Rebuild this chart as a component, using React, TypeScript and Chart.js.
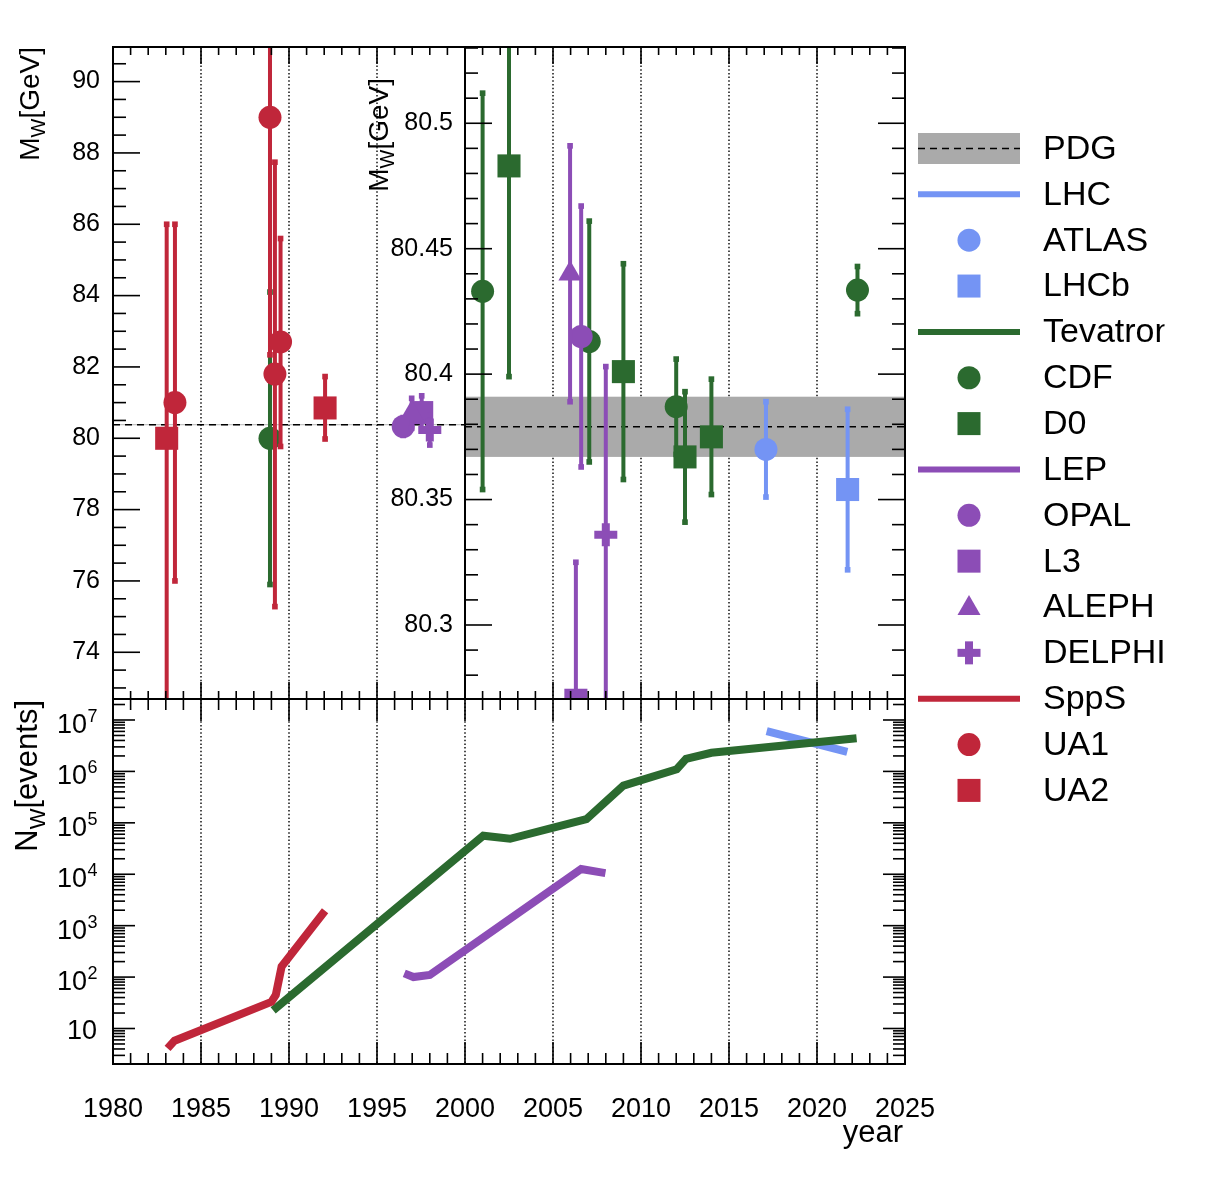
import React, { useEffect, useRef } from "react";
import { Chart, registerables } from "chart.js";

Chart.register(...registerables);

// ---------------- data ----------------
const PDG_MW = 80.379;
const PDG_ERR = 0.012;

// W mass measurements: year, M_W [GeV], error down / up
const UA1_YEAR = [1983.52, 1988.92, 1989.2, 1989.52];
const UA1_MW = [81.0, 89.0, 81.8, 82.7];
const UA1_ERR_DN = [5.0, 6.66, 6.52, 2.93];
const UA1_ERR_UP = [5.0, 6.66, 5.94, 2.9];

const UA2_YEAR = [1983.05, 1992.05];
const UA2_MW = [80.0, 80.85];
const UA2_ERR_DN = [10.0, 0.87];
const UA2_ERR_UP = [6.0, 0.88];

const CDF_YEAR = [1988.92, 2001.0, 2007.06, 2012.0, 2022.3];
const CDF_MW = [80.0, 80.433, 80.413, 80.387, 80.4335];
const CDF_ERR = [4.1, 0.079, 0.048, 0.019, 0.0094];

const D0_YEAR = [2002.5, 2009.0, 2012.5, 2014.0];
const D0_MW = [80.483, 80.401, 80.367, 80.375];
const D0_ERR = [0.084, 0.043, 0.026, 0.023];

const OPAL_YEAR = [1996.49, 2006.6];
const OPAL_MW = [80.33, 80.415];
const OPAL_ERR = [0.25, 0.052];

const L3_YEAR = [1997.54, 2006.3];
const L3_MW = [80.72, 80.27];
const L3_ERR = [0.47, 0.055];

const ALEPH_YEAR = [1996.97, 2005.97];
const ALEPH_MW = [80.7, 80.44];
const ALEPH_ERR = [0.42, 0.051];

const DELPHI_YEAR = [1998.0, 2008.0];
const DELPHI_MW = [80.23, 80.336];
const DELPHI_ERR = [0.42, 0.067];

const ATLAS_YEAR = [2017.1];
const ATLAS_MW = [80.37];
const ATLAS_ERR = [0.019];

const LHCB_YEAR = [2021.74];
const LHCB_MW = [80.354];
const LHCB_ERR = [0.032];

// Number of W events
const SPPS_N_YEAR = [1983.1, 1983.5, 1989.0, 1989.25, 1989.58, 1989.87, 1992.05];
const SPPS_N = [4.1, 5.8, 33, 45, 160, 214, 1950];

const TEV_N_YEAR = [1989.1, 2001.04, 2002.56, 2005.02, 2006.9, 2009.0, 2012.03, 2012.56, 2014.0, 2022.25];
const TEV_N = [22.5, 5.6e4, 4.9e4, 8.1e4, 1.18e5, 5.3e5, 1.1e6, 1.75e6, 2.3e6, 4.4e6];

const LEP_N_YEAR = [1996.55, 1997.07, 1998.0, 2006.6, 2007.98];
const LEP_N = [118, 100, 110, 1.26e4, 1.05e4];

const LHC_N_YEAR = [2017.14, 2021.72];
const LHC_N = [6.1e6, 2.4e6];

// tick labels
const X_LABELS = [1980, 1985, 1990, 1995, 2000, 2005, 2010, 2015, 2020, 2025];
const LEFT_Y_LABELS = [74, 76, 78, 80, 82, 84, 86, 88, 90];
const RIGHT_Y_LABELS = [80.3, 80.35, 80.4, 80.45, 80.5];
const LOG_EXPONENTS = [1, 2, 3, 4, 5, 6, 7];
const LEGEND_LABELS = ["PDG", "LHC", "ATLAS", "LHCb", "Tevatron", "CDF", "D0", "LEP", "OPAL", "L3", "ALEPH", "DELPHI", "SppS", "UA1", "UA2"];

// ---------------- style / layout ----------------
const W = 1222;
const H = 1182;
const FONT = '"Liberation Sans", Arial, Helvetica, sans-serif';
const RED = "#c0263a";
const GREEN = "#2b6a2f";
const PURPLE = "#8c4db6";
const BLUE = "#7494f4";
const GREY = "#aaaaaa";

const AREA_A = { l: 113, t: 47, r: 465, b: 699 };
const AREA_B = { l: 465, t: 47, r: 905, b: 699 };
const AREA_C = { l: 113, t: 699, r: 905, b: 1064 };

type Exp = { color: string; style: string; year: number[]; mw: number[]; dn: number[]; up: number[] };

// drawing order: later ones on top
const EXPS: Exp[] = [
  { color: BLUE, style: "circle", year: ATLAS_YEAR, mw: ATLAS_MW, dn: ATLAS_ERR, up: ATLAS_ERR },
  { color: BLUE, style: "square", year: LHCB_YEAR, mw: LHCB_MW, dn: LHCB_ERR, up: LHCB_ERR },
  { color: GREEN, style: "circle", year: CDF_YEAR, mw: CDF_MW, dn: CDF_ERR, up: CDF_ERR },
  { color: GREEN, style: "square", year: D0_YEAR, mw: D0_MW, dn: D0_ERR, up: D0_ERR },
  { color: PURPLE, style: "circle", year: OPAL_YEAR, mw: OPAL_MW, dn: OPAL_ERR, up: OPAL_ERR },
  { color: PURPLE, style: "square", year: L3_YEAR, mw: L3_MW, dn: L3_ERR, up: L3_ERR },
  { color: PURPLE, style: "triangle", year: ALEPH_YEAR, mw: ALEPH_MW, dn: ALEPH_ERR, up: ALEPH_ERR },
  { color: PURPLE, style: "cross", year: DELPHI_YEAR, mw: DELPHI_MW, dn: DELPHI_ERR, up: DELPHI_ERR },
  { color: RED, style: "circle", year: UA1_YEAR, mw: UA1_MW, dn: UA1_ERR_DN, up: UA1_ERR_UP },
  { color: RED, style: "square", year: UA2_YEAR, mw: UA2_MW, dn: UA2_ERR_DN, up: UA2_ERR_UP },
];

const MARKER_OPTS: Record<string, any> = {
  circle: { pointStyle: "circle", pointRadius: 11.5, pointBorderWidth: 0 },
  square: { pointStyle: "rect", pointRadius: 16.3, pointBorderWidth: 0 },
  triangle: { pointStyle: "triangle", pointRadius: 13.5, pointBorderWidth: 0 },
  cross: { pointStyle: "cross", pointRadius: 11.5, pointBorderWidth: 8 },
};

function errData(xs: number[], ys: number[], dn: number[], up: number[]) {
  const pts: { x: number; y: number | null }[] = [];
  xs.forEach((x, i) => {
    pts.push({ x, y: ys[i] - dn[i] }, { x, y: ys[i] + up[i] }, { x, y: null });
  });
  return pts;
}

function massDatasets() {
  const list: any[] = [];
  EXPS.forEach((e) => {
    list.push({
      data: errData(e.year, e.mw, e.dn, e.up),
      showLine: true,
      spanGaps: false,
      borderColor: e.color,
      borderWidth: 4,
      pointStyle: "rect",
      pointRadius: 4,
      pointBackgroundColor: e.color,
      pointBorderWidth: 0,
      clip: 0,
    });
    list.push({
      data: e.year.map((x, i) => ({ x, y: e.mw[i] })),
      showLine: false,
      pointBackgroundColor: e.color,
      pointBorderColor: e.color,
      ...MARKER_OPTS[e.style],
      clip: 0,
    });
  });
  return list.map((d, i) => ({ ...d, order: list.length - i }));
}

function eventDatasets() {
  const series = [
    { x: LHC_N_YEAR, y: LHC_N, c: BLUE },
    { x: TEV_N_YEAR, y: TEV_N, c: GREEN },
    { x: LEP_N_YEAR, y: LEP_N, c: PURPLE },
    { x: SPPS_N_YEAR, y: SPPS_N, c: RED },
  ];
  return series.map((s, i) => ({
    data: s.x.map((x, j) => ({ x, y: s.y[j] })),
    borderColor: s.c,
    borderWidth: 8,
    pointRadius: 0,
    tension: 0,
    fill: false,
    borderJoinStyle: "miter",
    clip: 0,
    order: series.length - i,
  }));
}

// ---------------- drawing helpers ----------------
function seg(ctx: CanvasRenderingContext2D, x1: number, y1: number, x2: number, y2: number) {
  ctx.beginPath();
  ctx.moveTo(x1, y1);
  ctx.lineTo(x2, y2);
  ctx.stroke();
}

function drawGrid(chart: any, years: number[]) {
  const { ctx, chartArea: a, scales } = chart;
  ctx.save();
  ctx.strokeStyle = "#000";
  ctx.lineWidth = 1.4;
  ctx.setLineDash([1.5, 2.2]);
  years.forEach((yr) => {
    const px = scales.x.getPixelForValue(yr);
    seg(ctx, px, a.top, px, a.bottom);
  });
  ctx.restore();
}

function drawPDG(chart: any, band: boolean) {
  const { ctx, chartArea: a, scales } = chart;
  const y = scales.y;
  ctx.save();
  if (band) {
    const y1 = y.getPixelForValue(PDG_MW + PDG_ERR);
    const y2 = y.getPixelForValue(PDG_MW - PDG_ERR);
    ctx.fillStyle = GREY;
    ctx.fillRect(a.left, y1, a.right - a.left, y2 - y1);
  }
  ctx.strokeStyle = "#000";
  ctx.lineWidth = 1.5;
  ctx.setLineDash([7, 5]);
  const yp = y.getPixelForValue(PDG_MW);
  seg(ctx, a.left, yp, a.right, yp);
  ctx.restore();
}

function drawFrame(chart: any) {
  const { ctx, chartArea: a } = chart;
  ctx.save();
  ctx.strokeStyle = "#000";
  ctx.lineWidth = 2;
  ctx.strokeRect(a.left, a.top, a.right - a.left, a.bottom - a.top);
  ctx.restore();
}

function yearTicks(chart: any, from: number, to: number, topMaj: number, topMin: number, botMaj: number, botMin: number) {
  const { ctx, chartArea: a, scales } = chart;
  ctx.save();
  ctx.strokeStyle = "#000";
  ctx.lineWidth = 1.6;
  for (let yr = from; yr <= to; yr++) {
    const px = scales.x.getPixelForValue(yr);
    const maj = yr % 5 === 0;
    seg(ctx, px, a.top, px, a.top + (maj ? topMaj : topMin));
    seg(ctx, px, a.bottom, px, a.bottom - (maj ? botMaj : botMin));
  }
  ctx.restore();
}

function linTicks(chart: any, iFrom: number, iTo: number, div: number, majEvery: number, left: boolean, right: boolean) {
  const { ctx, chartArea: a, scales } = chart;
  ctx.save();
  ctx.strokeStyle = "#000";
  ctx.lineWidth = 1.6;
  for (let i = iFrom; i <= iTo; i++) {
    const py = scales.y.getPixelForValue(i / div);
    if (py < a.top + 0.5 || py > a.bottom - 0.5) continue;
    const len = i % majEvery === 0 ? 27 : 13;
    if (left) seg(ctx, a.left, py, a.left + len, py);
    if (right) seg(ctx, a.right, py, a.right - len, py);
  }
  ctx.restore();
}

function logTicks(chart: any) {
  const { ctx, chartArea: a, scales } = chart;
  const y = scales.y;
  ctx.save();
  ctx.strokeStyle = "#000";
  ctx.lineWidth = 1.6;
  for (let k = 0; k <= 7; k++) {
    for (let m = 1; m <= 9; m++) {
      const v = m * Math.pow(10, k);
      if (v <= y.min || v >= y.max) continue;
      const py = y.getPixelForValue(v);
      const len = m === 1 ? 22 : 12;
      seg(ctx, a.left, py, a.left + len, py);
      seg(ctx, a.right, py, a.right - len, py);
    }
  }
  ctx.restore();
}

function rotatedTitle(
  ctx: CanvasRenderingContext2D,
  parts: { t: string; size: number; dy: number }[],
  baseX: number,
  endY: number
) {
  ctx.save();
  let total = 0;
  const widths = parts.map((p) => {
    ctx.font = `${p.size}px ${FONT}`;
    const w = ctx.measureText(p.t).width;
    total += w;
    return w;
  });
  ctx.translate(baseX, endY + total);
  ctx.rotate(-Math.PI / 2);
  ctx.fillStyle = "#000";
  ctx.textBaseline = "alphabetic";
  ctx.textAlign = "left";
  let cx = 0;
  parts.forEach((p, i) => {
    ctx.font = `${p.size}px ${FONT}`;
    ctx.fillText(p.t, cx, p.dy);
    cx += widths[i];
  });
  ctx.restore();
}

function legendMarker(ctx: CanvasRenderingContext2D, style: string, x: number, y: number, color: string) {
  ctx.fillStyle = color;
  ctx.beginPath();
  if (style === "circle") {
    ctx.arc(x, y, 11.5, 0, Math.PI * 2);
    ctx.fill();
  } else if (style === "square") {
    ctx.fillRect(x - 11.5, y - 11.5, 23, 23);
  } else if (style === "triangle") {
    ctx.moveTo(x, y - 12);
    ctx.lineTo(x + 11.5, y + 8);
    ctx.lineTo(x - 11.5, y + 8);
    ctx.closePath();
    ctx.fill();
  } else if (style === "cross") {
    ctx.fillRect(x - 11.5, y - 4, 23, 8);
    ctx.fillRect(x - 4, y - 11.5, 8, 23);
  }
}

const LEGEND_KIND = ["band", "line", "circle", "square", "line", "circle", "square", "line", "circle", "square", "triangle", "cross", "line", "circle", "square"];
const LEGEND_COLOR = [GREY, BLUE, BLUE, BLUE, GREEN, GREEN, GREEN, PURPLE, PURPLE, PURPLE, PURPLE, PURPLE, RED, RED, RED];

function drawLegend(ctx: CanvasRenderingContext2D) {
  const y0 = 148.5;
  const step = 45.85;
  ctx.save();
  LEGEND_LABELS.forEach((label, i) => {
    const cy = y0 + i * step;
    const kind = LEGEND_KIND[i];
    const color = LEGEND_COLOR[i];
    if (kind === "band") {
      ctx.fillStyle = GREY;
      ctx.fillRect(918, cy - 15.5, 102, 31);
      ctx.save();
      ctx.strokeStyle = "#000";
      ctx.lineWidth = 1.5;
      ctx.setLineDash([7, 5]);
      seg(ctx, 918, cy, 1020, cy);
      ctx.restore();
    } else if (kind === "line") {
      ctx.strokeStyle = color;
      ctx.lineWidth = 6;
      seg(ctx, 918, cy, 1020, cy);
    } else {
      legendMarker(ctx, kind, 969, cy, color);
    }
    ctx.save();
    ctx.beginPath();
    ctx.rect(1030, cy - 30, 134.5, 60);
    ctx.clip();
    ctx.fillStyle = "#000";
    ctx.font = `34px ${FONT}`;
    ctx.textAlign = "left";
    ctx.textBaseline = "middle";
    ctx.fillText(label, 1043, cy + 1);
    ctx.restore();
  });
  ctx.restore();
}

// ---------------- panel plugins ----------------
const pluginA = {
  id: "panelA",
  beforeDatasetsDraw(chart: any) {
    drawGrid(chart, [1985, 1990, 1995]);
    drawPDG(chart, true);
  },
  afterDraw(chart: any) {
    const { ctx, scales } = chart;
    drawFrame(chart);
    yearTicks(chart, 1981, 1999, 17, 8, 17, 8);
    linTicks(chart, 146, 182, 2, 4, true, false);
    ctx.save();
    ctx.fillStyle = "#000";
    ctx.font = `25px ${FONT}`;
    ctx.textAlign = "right";
    ctx.textBaseline = "middle";
    LEFT_Y_LABELS.forEach((v) => ctx.fillText(String(v), 100, scales.y.getPixelForValue(v)));
    ctx.restore();
    rotatedTitle(ctx, [
      { t: "M", size: 28, dy: 0 },
      { t: "W", size: 20, dy: 6 },
      { t: "[GeV]", size: 28, dy: 0 },
    ], 38.5, 47);
  },
};

const pluginB = {
  id: "panelB",
  beforeDatasetsDraw(chart: any) {
    drawGrid(chart, [2005, 2010, 2015, 2020]);
    drawPDG(chart, true);
  },
  afterDraw(chart: any) {
    const { ctx, scales } = chart;
    drawFrame(chart);
    yearTicks(chart, 2001, 2024, 17, 8, 17, 8);
    linTicks(chart, 8027, 8054, 100, 5, true, true);
    ctx.save();
    ctx.fillStyle = "#000";
    ctx.font = `25px ${FONT}`;
    ctx.textAlign = "right";
    ctx.textBaseline = "middle";
    RIGHT_Y_LABELS.forEach((v) => ctx.fillText(String(v), 453, scales.y.getPixelForValue(v)));
    ctx.restore();
    rotatedTitle(ctx, [
      { t: "M", size: 28, dy: 0 },
      { t: "W", size: 20, dy: 6 },
      { t: "[GeV]", size: 28, dy: 0 },
    ], 388, 78);
  },
};

const pluginC = {
  id: "panelC",
  beforeDatasetsDraw(chart: any) {
    drawGrid(chart, [1985, 1990, 1995, 2000, 2005, 2010, 2015, 2020]);
  },
  afterDraw(chart: any) {
    const { ctx, scales } = chart;
    drawFrame(chart);
    yearTicks(chart, 1981, 2024, 22, 11, 22, 11);
    logTicks(chart);
    ctx.save();
    ctx.fillStyle = "#000";
    // x labels
    ctx.font = `27px ${FONT}`;
    ctx.textAlign = "center";
    ctx.textBaseline = "alphabetic";
    X_LABELS.forEach((yr) => ctx.fillText(String(yr), scales.x.getPixelForValue(yr), 1117));
    ctx.font = `31px ${FONT}`;
    ctx.textAlign = "right";
    ctx.fillText("year", 903, 1142);
    // log y labels
    LOG_EXPONENTS.forEach((k) => {
      const py = scales.y.getPixelForValue(Math.pow(10, k));
      ctx.font = `27px ${FONT}`;
      ctx.textAlign = "right";
      if (k === 1) {
        ctx.fillText("10", 97, py + 10);
      } else {
        ctx.fillText("10", 87, py + 13);
        ctx.font = `18px ${FONT}`;
        ctx.textAlign = "left";
        ctx.fillText(String(k), 87.5, py + 2);
      }
    });
    ctx.restore();
    rotatedTitle(ctx, [
      { t: "N", size: 31, dy: 0 },
      { t: "W", size: 22, dy: 8 },
      { t: "[events]", size: 31, dy: 0 },
    ], 37, 700);
    drawLegend(ctx);
  },
};

function makeConfig(area: any, xMin: number, xMax: number, yScale: any, datasets: any[], plugin: any) {
  return {
    type: "line",
    data: { datasets },
    options: {
      responsive: false,
      maintainAspectRatio: false,
      animation: false,
      events: [],
      devicePixelRatio: 1,
      layout: { padding: { left: area.l, top: area.t, right: W - area.r, bottom: H - area.b } },
      plugins: { legend: { display: false }, tooltip: { enabled: false }, title: { display: false } },
      scales: {
        x: { type: "linear", min: xMin, max: xMax, display: false },
        y: { ...yScale, display: false },
      },
    },
    plugins: [plugin],
  } as any;
}

export default function App() {
  const refA = useRef<HTMLCanvasElement>(null);
  const refB = useRef<HTMLCanvasElement>(null);
  const refC = useRef<HTMLCanvasElement>(null);

  useEffect(() => {
    const charts: Chart[] = [];
    charts.push(
      new Chart(
        refA.current!,
        makeConfig(AREA_A, 1980, 2000, { type: "linear", min: 72.69, max: 90.97 }, massDatasets(), pluginA)
      )
    );
    charts.push(
      new Chart(
        refB.current!,
        makeConfig(AREA_B, 2000, 2025, { type: "linear", min: 80.2705, max: 80.5304 }, massDatasets(), pluginB)
      )
    );
    charts.push(
      new Chart(
        refC.current!,
        makeConfig(AREA_C, 1980, 2025, { type: "logarithmic", min: 2.04, max: 2.56e7 }, eventDatasets(), pluginC)
      )
    );
    return () => charts.forEach((c) => c.destroy());
  }, []);

  const cs: React.CSSProperties = { position: "absolute", left: 0, top: 0, width: W, height: H };
  return (
    <div style={{ position: "absolute", left: 0, top: 0, width: W, height: H, background: "#fff", overflow: "hidden" }}>
      <canvas ref={refA} width={W} height={H} style={cs} />
      <canvas ref={refB} width={W} height={H} style={cs} />
      <canvas ref={refC} width={W} height={H} style={cs} />
    </div>
  );
}
